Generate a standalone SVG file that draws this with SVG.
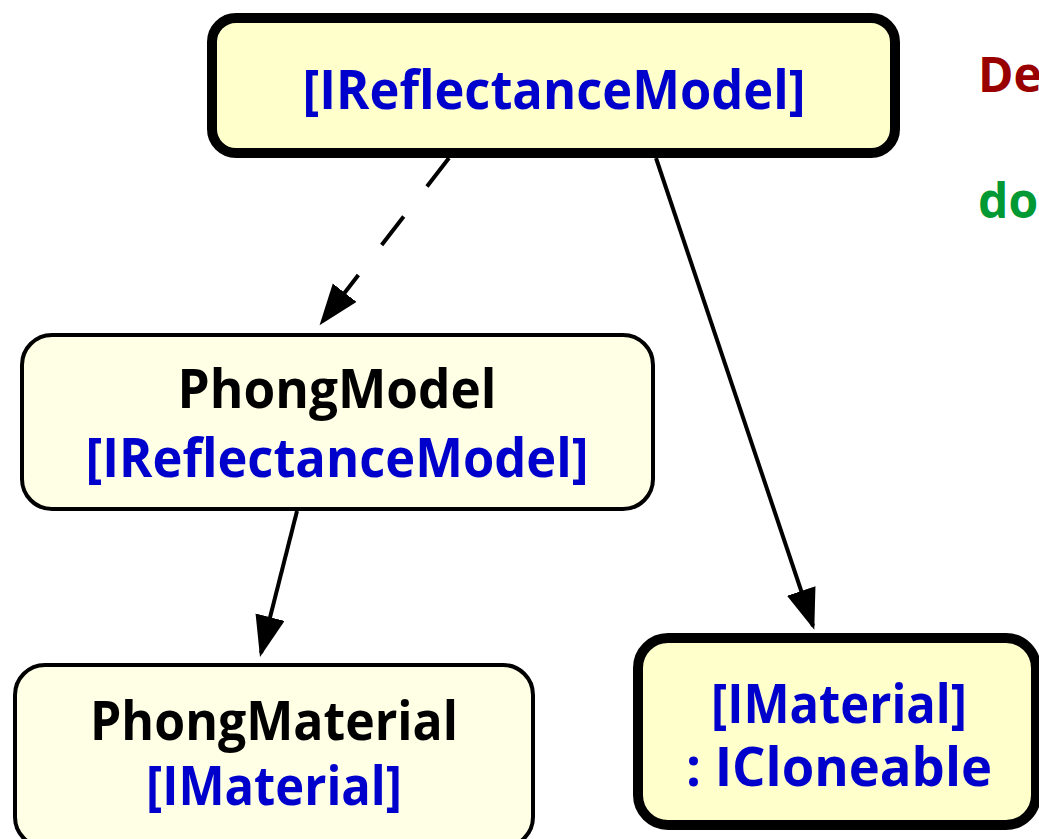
<svg xmlns="http://www.w3.org/2000/svg" width="1039" height="839" viewBox="0 0 1039 839">
  <style>
    .box-iface { fill: #ffffcc; stroke: #000; stroke-width: 10; }
    .box-class { fill: #ffffe6; stroke: #000; stroke-width: 4; }
    .label { font-family: "Open Sans", "DejaVu Sans", sans-serif; font-weight: 700; font-size: 53px; text-anchor: middle; }
    .iface { fill: #0000cc; }
    .cls { fill: #000; }
    .edge { fill: none; stroke: #000; stroke-width: 4; }
    .dashed { stroke-dasharray: 36 38; }
    .legend { font-family: "Open Sans", "DejaVu Sans", sans-serif; font-weight: 700; font-size: 48px; }
  </style>
  <defs>
    <marker id="arrow" markerUnits="userSpaceOnUse" markerWidth="42" markerHeight="32" refX="37" refY="15" orient="auto">
      <path d="M0,0 L41,15 L0,30 z" fill="#000"/>
    </marker>
  </defs>

  <rect width="1039" height="839" fill="#fff"/>

  <!-- connectors -->
  <g id="edges">
    <line class="edge dashed" x1="449" y1="158" x2="322" y2="322" marker-end="url(#arrow)"/>
    <line class="edge" x1="656" y1="158" x2="813" y2="626" marker-end="url(#arrow)"/>
    <line class="edge" x1="297" y1="511" x2="261" y2="653" marker-end="url(#arrow)"/>
  </g>

  <g id="IReflectanceModel">
    <rect class="box-iface" x="212" y="18" width="683" height="135" rx="24"/>
    <text class="label iface" x="554" y="109" textLength="503" lengthAdjust="spacingAndGlyphs">[IReflectanceModel]</text>
  </g>

  <g id="PhongModel">
    <rect class="box-class" x="22" y="335" width="631" height="174" rx="30"/>
    <text class="label cls" x="337" y="408" textLength="319" lengthAdjust="spacingAndGlyphs">PhongModel</text>
    <text class="label iface" x="337" y="477" textLength="503" lengthAdjust="spacingAndGlyphs">[IReflectanceModel]</text>
  </g>

  <g id="PhongMaterial">
    <rect class="box-class" x="15" y="665" width="518" height="182" rx="30"/>
    <text class="label cls" x="274" y="740" textLength="368" lengthAdjust="spacingAndGlyphs">PhongMaterial</text>
    <text class="label iface" x="274" y="805" textLength="256" lengthAdjust="spacingAndGlyphs">[IMaterial]</text>
  </g>

  <g id="IMaterial">
    <rect class="box-iface" x="638" y="638" width="398" height="187" rx="30"/>
    <text class="label iface" x="839" y="723" textLength="256" lengthAdjust="spacingAndGlyphs">[IMaterial]</text>
    <text class="label iface" x="839" y="786" textLength="306" lengthAdjust="spacingAndGlyphs">: ICloneable</text>
  </g>

  <g id="legend">
    <text class="legend" x="978" y="92" fill="#990000">De</text>
    <text class="legend" x="978" y="218" fill="#009933">do</text>
  </g>
</svg>
